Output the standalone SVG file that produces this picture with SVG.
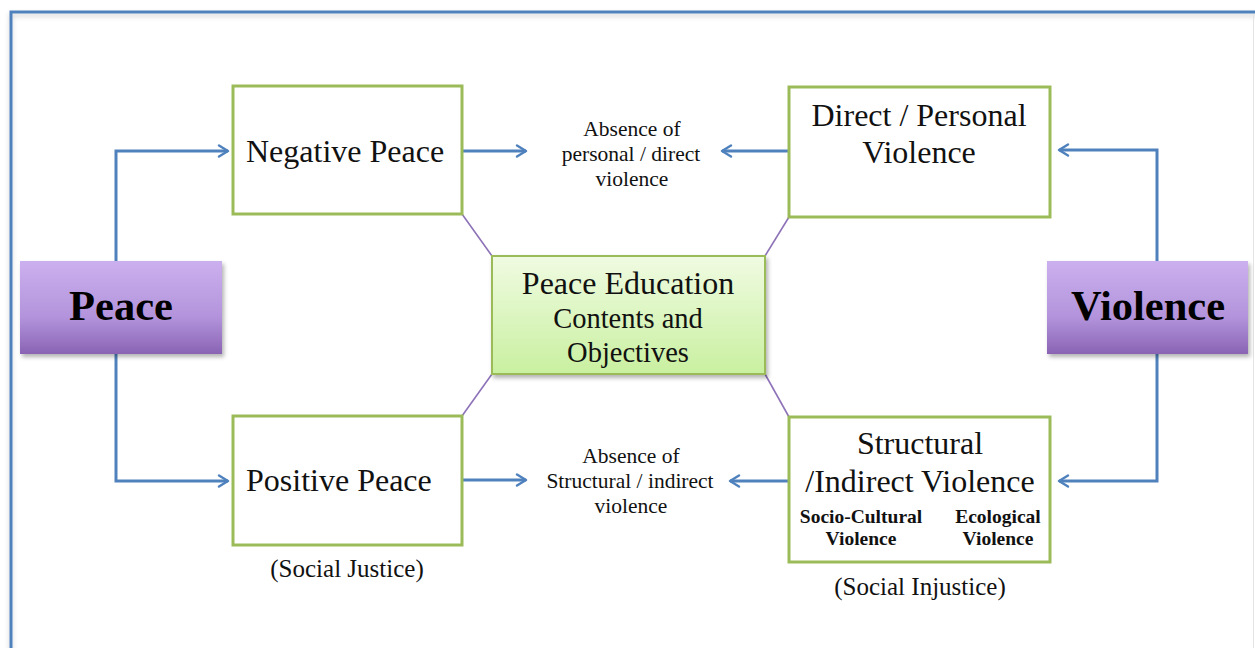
<svg xmlns="http://www.w3.org/2000/svg" width="1255" height="648" viewBox="0 0 1255 648">
  <defs>
    <linearGradient id="purpleFill" x1="0" y1="0" x2="0" y2="1">
      <stop offset="0" stop-color="#cbb0ee"/>
      <stop offset="0.6" stop-color="#b394dc"/>
      <stop offset="1" stop-color="#8a63b4"/>
    </linearGradient>
    <linearGradient id="greenFill" x1="0" y1="0" x2="0" y2="1">
      <stop offset="0" stop-color="#f0fbe2"/>
      <stop offset="1" stop-color="#c9f0a0"/>
    </linearGradient>
    <filter id="shadow" x="-10%" y="-10%" width="125%" height="130%">
      <feDropShadow dx="2" dy="3" stdDeviation="2" flood-color="#000" flood-opacity="0.3"/>
    </filter>
    <filter id="soft" x="-5%" y="-5%" width="110%" height="110%">
      <feDropShadow dx="0" dy="3" stdDeviation="2.5" flood-color="#000" flood-opacity="0.18"/>
    </filter>
    <marker id="arrow" viewBox="0 0 14 14" refX="12" refY="7" markerWidth="14" markerHeight="14" markerUnits="userSpaceOnUse" orient="auto">
      <path d="M3,1.5 L12,7 L3,12.5" fill="none" stroke="#4f81bd" stroke-width="2.4" stroke-linecap="round" stroke-linejoin="round"/>
    </marker>
  </defs>
  <style>
    .frame { fill: none; stroke: #4f81bd; stroke-width: 3; }
    .box { fill: #ffffff; stroke: #9bbb59; stroke-width: 3; }
    .hub { fill: url(#greenFill); stroke: #9bbb59; stroke-width: 2; }
    .pole { fill: url(#purpleFill); }
    .flow { fill: none; stroke: #4f81bd; stroke-width: 3; marker-end: url(#arrow); }
    .link { stroke: #8e72b8; stroke-width: 1.6; }
    text { font-family: "Liberation Serif", "Times New Roman", serif; fill: #111; text-anchor: middle; }
    .big { font-size: 32px; }
    .mid { font-size: 28.5px; }
    .small { font-size: 21.5px; }
    .note { font-size: 25px; }
    .sub { font-size: 19.5px; font-weight: bold; }
    .pole-label { font-size: 42.5px; font-weight: bold; fill: #000; }
    .left { text-anchor: start; }
  </style>

  <rect width="1255" height="648" fill="#ffffff"/>

  <!-- outer frame -->
  <g id="frame" filter="url(#soft)">
    <path class="frame" d="M11,660 L11,12 L1262,12"/>
  </g>
  <line x1="1253.5" y1="14" x2="1253.5" y2="648" stroke="#e4e4e4" stroke-width="1"/>

  <!-- connectors -->
  <g id="connectors">
    <line class="link" x1="462" y1="214" x2="492" y2="256"/>
    <line class="link" x1="789" y1="217" x2="765" y2="256"/>
    <line class="link" x1="462" y1="416" x2="492" y2="374"/>
    <line class="link" x1="789" y1="417" x2="765" y2="374"/>

    <path class="flow" d="M116,261 L116,151 L228,151"/>
    <path class="flow" d="M116,354 L116,481 L228,481"/>
    <path class="flow" d="M1157,261 L1157,150 L1059,150"/>
    <path class="flow" d="M1157,354 L1157,481 L1059,481"/>

    <path class="flow" d="M462,151 L526,151"/>
    <path class="flow" d="M789,151 L722,151"/>
    <path class="flow" d="M462,480 L526,480"/>
    <path class="flow" d="M789,481 L730,481"/>
  </g>

  <!-- Peace -->
  <g id="peace">
    <rect class="pole" x="20" y="261" width="202" height="93" filter="url(#shadow)"/>
    <text class="pole-label" x="121" y="320">Peace</text>
  </g>

  <!-- Violence -->
  <g id="violence">
    <rect class="pole" x="1047" y="261" width="201" height="93" filter="url(#shadow)"/>
    <text class="pole-label" x="1148" y="320">Violence</text>
  </g>

  <!-- Negative Peace -->
  <g id="negative-peace">
    <rect class="box" x="233" y="86" width="229" height="128"/>
    <text class="big left" x="246" y="162">Negative Peace</text>
  </g>

  <!-- Positive Peace -->
  <g id="positive-peace">
    <rect class="box" x="233" y="416" width="229" height="129"/>
    <text class="big left" x="246" y="491">Positive Peace</text>
    <text class="note" x="347" y="577">(Social Justice)</text>
  </g>

  <!-- Direct / Personal Violence -->
  <g id="direct-violence">
    <rect class="box" x="789" y="87" width="261" height="130"/>
    <text class="big" x="919" y="126">Direct / Personal</text>
    <text class="big" x="919" y="163">Violence</text>
  </g>

  <!-- Structural / Indirect Violence -->
  <g id="structural-violence">
    <rect class="box" x="789" y="417" width="261" height="145"/>
    <text class="big" x="920" y="454">Structural</text>
    <text class="big" x="920" y="492">/Indirect Violence</text>
    <text class="sub" x="861" y="523">Socio-Cultural</text>
    <text class="sub" x="861" y="545">Violence</text>
    <text class="sub" x="998" y="523">Ecological</text>
    <text class="sub" x="998" y="545">Violence</text>
    <text class="note" x="920" y="595">(Social Injustice)</text>
  </g>

  <!-- Peace Education hub -->
  <g id="peace-education">
    <rect class="hub" x="492" y="256" width="273" height="118" filter="url(#shadow)"/>
    <text class="big" x="628" y="294">Peace Education</text>
    <text class="mid" x="628" y="328">Contents and</text>
    <text class="mid" x="628" y="362">Objectives</text>
  </g>

  <!-- Absence of direct violence -->
  <g id="absence-direct">
    <text class="small" x="632" y="136">Absence of</text>
    <text class="small" x="631" y="161">personal / direct</text>
    <text class="small" x="632" y="186">violence</text>
  </g>

  <!-- Absence of structural violence -->
  <g id="absence-structural">
    <text class="small" x="631" y="463">Absence of</text>
    <text class="small" x="630" y="488">Structural / indirect</text>
    <text class="small" x="631" y="513">violence</text>
  </g>
</svg>
